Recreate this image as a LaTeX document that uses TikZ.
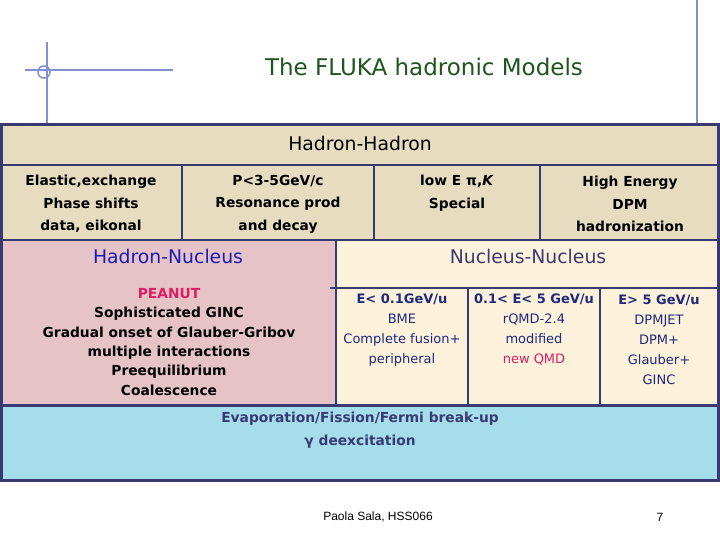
\documentclass[tikz,border=0pt]{standalone}
\usepackage{fontspec}
\setmainfont{DejaVu Sans}
\newfontfamily\footfont{Liberation Sans}
\definecolor{decoblue}{HTML}{8090D0}
\definecolor{navy}{HTML}{3A3A72}
\definecolor{hhcol}{HTML}{E6DCC0}
\definecolor{hncol}{HTML}{E6C3C6}
\definecolor{nncol}{HTML}{FCF1DA}
\definecolor{evcol}{HTML}{A6DDEA}
\definecolor{titlegreen}{HTML}{1E561E}
\definecolor{crimson}{HTML}{DC1E64}
\definecolor{nntext}{HTML}{1E2A7E}
\definecolor{hnblue}{HTML}{1A1AB8}
\tikzset{
  deco/.style={draw=decoblue, line width=1.5pt},
  divider/.style={draw=navy, line width=2pt},
  cell/.style={align=center, font=\fontsize{13.8}{22.5}\selectfont\bfseries, inner sep=0pt},
  hncell/.style={align=center, font=\fontsize{13.8}{19.3}\selectfont\bfseries, inner sep=0pt},
  nncell/.style={align=center, text=nntext, font=\fontsize{13}{20}\selectfont, inner sep=0pt},
  header/.style={font=\fontsize{18.8}{22}\selectfont, inner sep=0pt},
}
\begin{document}
\begin{tikzpicture}[x=1pt,y=-1pt]
\useasboundingbox (0,0) rectangle (720,540);
\fill[white] (0,0) rectangle (720,540);
% decoration
\draw[deco] (47,42) -- (47,124);
\draw[deco] (25,70) -- (173,70);
\draw[deco] (44,72) circle (6);
\draw[deco] (697,0) -- (697,124);
% title
\node[text=titlegreen, font=\fontsize{23}{26}\selectfont, inner sep=0pt] (title) at (424,67) {The FLUKA hadronic Models};
% regions
\fill[hhcol] (1,125) rectangle (719,240);
\fill[hncol] (1,240) rectangle (336,405);
\fill[nncol] (336,240) rectangle (719,405);
\fill[evcol] (1,405) rectangle (719,480);
% dividers
\draw[divider] (1,165) -- (719,165);
\draw[divider] (182,165) -- (182,240);
\draw[divider] (374,165) -- (374,240);
\draw[divider] (540,165) -- (540,240);
\draw[divider] (1,240) -- (719,240);
\draw[divider] (336,240) -- (336,405);
\draw[divider] (330,288) -- (719,288);
\draw[divider] (468,288) -- (468,405);
\draw[divider] (600,288) -- (600,405);
\draw[draw=navy, line width=3pt] (1,405) -- (719,405);
\draw[draw=navy, line width=3pt] (1.5,125) rectangle (718.5,480);
% Hadron-Hadron
\node[header] (hh) at (360,143) {Hadron-Hadron};
\node[cell] (hh1) at (91,204) {Elastic,exchange\\Phase shifts\\data, eikonal};
\node[cell] (hh2) at (278,204) {P<3-5GeV/c\\Resonance prod\\and decay};
\node[cell] (hh3) at (457,193) {low E π,\textit{K}\\Special};
\node[cell] (hh4) at (630,204) {High Energy\\DPM\\hadronization};
% Hadron-Nucleus
\node[header, text=hnblue] (hn) at (168,256) {Hadron-Nucleus};
\node[hncell] (hntext) at (169,342) {\textcolor{crimson}{PEANUT}\\Sophisticated GINC\\Gradual onset of Glauber-Gribov\\multiple interactions\\Preequilibrium\\Coalescence};
% Nucleus-Nucleus
\node[header, text=navy] (nn) at (528,256) {Nucleus-Nucleus};
\node[nncell] (nn1) at (402,330) {\textbf{E< 0.1GeV/u}\\BME\\Complete fusion+\\peripheral};
\node[nncell] (nn2) at (534,330) {\textbf{0.1< E< 5 GeV/u}\\rQMD-2.4\\modified\\\textcolor{crimson}{new QMD}};
\node[nncell] (nn3) at (659,340) {\textbf{E> 5 GeV/u}\\DPMJET\\DPM+\\Glauber+\\GINC};
% Evaporation
\node[cell, text=navy] (ev) at (360,430) {Evaporation/Fission/Fermi break-up\\γ deexcitation};
% footer
\node[font=\footfont\fontsize{12}{14}\selectfont, inner sep=0pt] (foot) at (378,517) {Paola Sala, HSS066};
\node[font=\footfont\fontsize{12}{14}\selectfont, inner sep=0pt] (page) at (660,517) {7};
\end{tikzpicture}
\end{document}
